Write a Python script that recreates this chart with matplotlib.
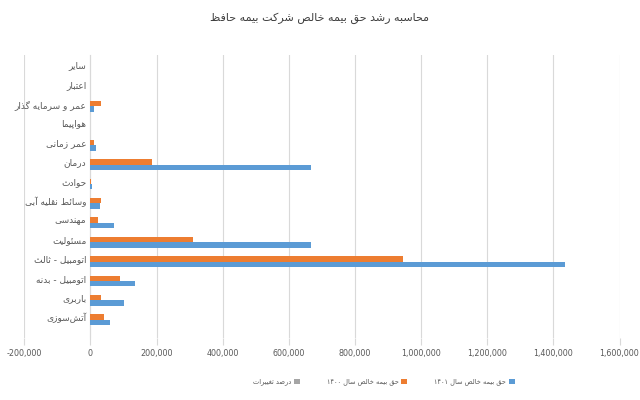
import matplotlib
matplotlib.use("Agg")
import matplotlib.pyplot as plt
import numpy as np

# ---------- data (bottom to top) ----------
categories = ["آتش‌سوزی", "باربری", "اتومبیل - بدنه", "اتومبیل - ثالث", "مسئولیت",
              "مهندسی", "وسائط نقلیه آبی", "حوادث", "درمان", "عمر زمانی",
              "هواپیما", "عمر و سرمایه گذار", "اعتبار", "سایر"]
net_1401 = [58000, 100000, 136000, 1435000, 666000, 70000, 28000, 5000, 666000, 16000,
            0, 10000, 0, 0]
net_1400 = [40000, 33000, 88000, 945000, 310000, 22000, 33000, 2000, 185000, 10000,
            0, 33000, 0, 0]
pct_change = [0.45, 2.0, 0.55, 0.52, 1.15, 2.2, -0.15, 1.5, 2.6, 0.6, 0, -0.7, 0, 0]
series_names = ["حق بیمه خالص سال ۱۴۰۱", "حق بیمه خالص سال ۱۴۰۰", "درصد تغییرات"]
title_text = "محاسبه رشد حق بیمه خالص شرکت بیمه حافظ"
xticks = [-200000, 0, 200000, 400000, 600000, 800000, 1000000, 1200000, 1400000, 1600000]

# ---------- simple Persian shaping ----------
FORMS = {  # isolated, final, initial, medial
    'ا': (0xFE8D, 0xFE8E, None, None), 'آ': (0xFE81, 0xFE82, None, None),
    'ب': (0xFE8F, 0xFE90, 0xFE91, 0xFE92), 'پ': (0xFB56, 0xFB57, 0xFB58, 0xFB59),
    'ت': (0xFE95, 0xFE96, 0xFE97, 0xFE98), 'ث': (0xFE99, 0xFE9A, 0xFE9B, 0xFE9C),
    'ج': (0xFE9D, 0xFE9E, 0xFE9F, 0xFEA0), 'چ': (0xFB7A, 0xFB7B, 0xFB7C, 0xFB7D),
    'ح': (0xFEA1, 0xFEA2, 0xFEA3, 0xFEA4), 'خ': (0xFEA5, 0xFEA6, 0xFEA7, 0xFEA8),
    'د': (0xFEA9, 0xFEAA, None, None), 'ذ': (0xFEAB, 0xFEAC, None, None),
    'ر': (0xFEAD, 0xFEAE, None, None), 'ز': (0xFEAF, 0xFEB0, None, None),
    'ژ': (0xFB8A, 0xFB8B, None, None),
    'س': (0xFEB1, 0xFEB2, 0xFEB3, 0xFEB4), 'ش': (0xFEB5, 0xFEB6, 0xFEB7, 0xFEB8),
    'ص': (0xFEB9, 0xFEBA, 0xFEBB, 0xFEBC), 'ض': (0xFEBD, 0xFEBE, 0xFEBF, 0xFEC0),
    'ط': (0xFEC1, 0xFEC2, 0xFEC3, 0xFEC4), 'ظ': (0xFEC5, 0xFEC6, 0xFEC7, 0xFEC8),
    'ع': (0xFEC9, 0xFECA, 0xFECB, 0xFECC), 'غ': (0xFECD, 0xFECE, 0xFECF, 0xFED0),
    'ف': (0xFED1, 0xFED2, 0xFED3, 0xFED4), 'ق': (0xFED5, 0xFED6, 0xFED7, 0xFED8),
    'ک': (0xFB8E, 0xFB8F, 0xFB90, 0xFB91), 'گ': (0xFB92, 0xFB93, 0xFB94, 0xFB95),
    'ل': (0xFEDD, 0xFEDE, 0xFEDF, 0xFEE0), 'م': (0xFEE1, 0xFEE2, 0xFEE3, 0xFEE4),
    'ن': (0xFEE5, 0xFEE6, 0xFEE7, 0xFEE8), 'ه': (0xFEE9, 0xFEEA, 0xFEEB, 0xFEEC),
    'و': (0xFEED, 0xFEEE, None, None), 'ی': (0xFBFC, 0xFBFD, 0xFBFE, 0xFBFF),
    'ئ': (0xFE89, 0xFE8A, 0xFE8B, 0xFE8C),
}


def dual(c):
    return c in FORMS and FORMS[c][2] is not None


def shape(text):
    chars = list(text)
    out = []
    i = 0
    n = len(chars)
    while i < n:
        c = chars[i]
        prev = chars[i - 1] if i > 0 else ''
        if c == 'ل' and i + 1 < n and chars[i + 1] in ('ا', 'آ'):
            a = chars[i + 1]
            iso, fin = ((0xFEFB, 0xFEFC) if a == 'ا' else (0xFEF5, 0xFEF6))
            out.append(chr(fin if dual(prev) else iso))
            i += 2
            continue
        if c in FORMS:
            nxt = chars[i + 1] if i + 1 < n else ''
            cp = dual(prev)
            cn = dual(c) and nxt in FORMS
            iso, fin, ini, med = FORMS[c]
            if cp and cn:
                code = med
            elif cp:
                code = fin
            elif cn:
                code = ini
            else:
                code = iso
            out.append(chr(code))
        elif c == '\u200c':
            pass
        else:
            out.append(c)
        i += 1
    # visual reorder: reverse, keep digit runs LTR
    tokens = []
    for ch in out:
        isdig = ch.isdigit()
        if tokens and tokens[-1][0] == isdig and isdig:
            tokens[-1][1].append(ch)
        else:
            tokens.append([isdig, [ch]])
    res = []
    for isdig, chs in reversed(tokens):
        res.append(''.join(chs))
    return ''.join(res)


plt.rcParams['font.family'] = ['DejaVu Sans']

BLUE = "#5B9BD5"
ORANGE = "#ED7D31"
GRAY = "#A5A5A5"
TXT = "#595959"
GRID = "#D9D9D9"

fig = plt.figure(figsize=(6.4, 4.0), dpi=100)
ax = fig.add_axes([0.038, 0.155, 0.93, 0.707])
ax.spines['left'].set_position(('data', 0))

y = np.arange(len(categories))
h = 0.28
ax.barh(y - h, net_1401, height=h, color=BLUE, label=shape(series_names[0]), zorder=3)
ax.barh(y, net_1400, height=h, color=ORANGE, label=shape(series_names[1]), zorder=3)
ax.barh(y + h, pct_change, height=h, color=GRAY, label=shape(series_names[2]), zorder=3)

ax.set_xlim(-200000, 1600000)
ax.set_ylim(-1.08, 13.5)
ax.set_xticks(xticks)
ax.set_xticklabels([f"{v:,}" for v in xticks])
ax.tick_params(axis='x', length=5, color=GRID, pad=3, labelsize=5.8, labelcolor=TXT)
ax.grid(axis='x', color=GRID, linewidth=0.8, zorder=0)

ax.set_yticks(y)
ax.set_yticklabels([shape(c) for c in categories])
ax.tick_params(axis='y', length=0, pad=3, labelsize=6.5, labelcolor=TXT)
ax.spines['left'].set_color(GRID)
for s in ['top', 'right', 'bottom']:
    ax.spines[s].set_visible(False)

fig.text(0.5, 0.955, shape(title_text), ha='center', va='center', fontsize=8,
         color="#404040")

handles, labels = ax.get_legend_handles_labels()
leg = fig.legend(handles[::-1], labels[::-1], loc='center', bbox_to_anchor=(0.6, 0.045),
                 ncol=3, frameon=False, fontsize=4.8, markerfirst=False,
                 handlelength=0.9, handleheight=0.9, columnspacing=4.0, handletextpad=0.4)
for t in leg.get_texts():
    t.set_color(TXT)

fig.savefig("out.png", dpi=100, facecolor='white')
